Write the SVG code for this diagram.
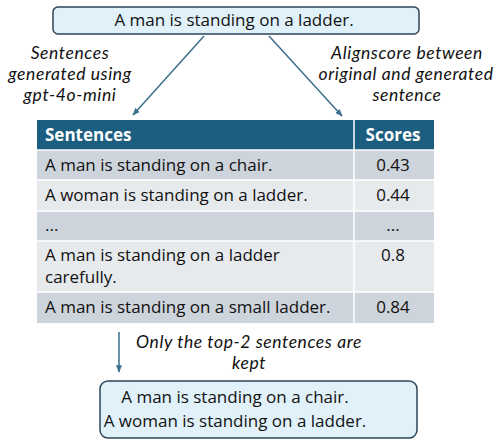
<svg xmlns="http://www.w3.org/2000/svg" width="496" height="440" viewBox="0 0 496 440">
  <style>
    text { font-family: "Open Sans", "Noto Sans", "Liberation Sans", sans-serif; fill: #111; }
    .box { fill: #E1F1F9; stroke: #2C4558; stroke-width: 1.5; }
    .body { font-size: 17px; }
    .note { font-family: Lato, "Open Sans", sans-serif; font-size: 17.5px; font-style: italic; letter-spacing: 0.6px; }
    .head { font-size: 17px; font-weight: bold; fill: #fff; }
    .hdr { fill: #1C5E80; }
    .dark { fill: #CED4DB; }
    .light { fill: #E7EAED; }
    .sep { stroke: #fff; stroke-width: 1.5; }
    .conn { stroke: #3A6F8E; stroke-width: 1.5; fill: none; marker-end: url(#arrow); }
  </style>
  <defs>
    <marker id="arrow" viewBox="0 0 10 10" refX="9" refY="5" markerWidth="5" markerHeight="5" orient="auto">
      <path d="M0,1 L10,5 L0,9 z" fill="#3A6F8E"/>
    </marker>
  </defs>

  <!-- source sentence -->
  <g id="source">
    <rect class="box" x="53" y="7" width="366" height="27" rx="5"/>
    <text class="body" x="234" y="26" text-anchor="middle">A man is standing on a ladder.</text>
  </g>

  <!-- connectors -->
  <g id="connectors">
    <line class="conn" x1="204" y1="36" x2="133" y2="115"/>
    <line class="conn" x1="269" y1="36" x2="342" y2="116"/>
    <line class="conn" x1="119" y1="332" x2="119" y2="372"/>
  </g>

  <!-- connector labels -->
  <g id="label-generate">
    <text class="note" text-anchor="middle"><tspan x="70" y="59">Sentences</tspan><tspan x="70" y="80">generated using</tspan><tspan x="70" y="101">gpt-4o-mini</tspan></text>
  </g>
  <g id="label-score">
    <text class="note" text-anchor="middle"><tspan x="407" y="59">Alignscore between</tspan><tspan x="406" y="80">original and generated</tspan><tspan x="407" y="101">sentence</tspan></text>
  </g>
  <g id="label-filter">
    <text class="note" text-anchor="middle"><tspan x="249" y="348">Only the top-2 sentences are</tspan><tspan x="249" y="369">kept</tspan></text>
  </g>

  <!-- scored candidates table -->
  <g id="table">
    <rect class="hdr" x="37" y="120" width="397" height="30"/>
    <rect class="dark" x="37" y="150" width="397" height="30"/>
    <rect class="light" x="37" y="180" width="397" height="31"/>
    <rect class="dark" x="37" y="211" width="397" height="30"/>
    <rect class="light" x="37" y="241" width="397" height="51"/>
    <rect class="dark" x="37" y="292" width="397" height="31"/>
    <line class="sep" x1="37" y1="150" x2="434" y2="150"/>
    <line class="sep" x1="37" y1="180" x2="434" y2="180"/>
    <line class="sep" x1="37" y1="211" x2="434" y2="211"/>
    <line class="sep" x1="37" y1="241" x2="434" y2="241"/>
    <line class="sep" x1="37" y1="292" x2="434" y2="292"/>
    <line class="sep" x1="354" y1="120" x2="354" y2="323"/>

    <text class="head" x="45" y="141">Sentences</text>
    <text class="head" x="393" y="141" text-anchor="middle">Scores</text>

    <text class="body" x="45" y="171">A man is standing on a chair.</text>
    <text class="body" x="393" y="171" text-anchor="middle">0.43</text>
    <text class="body" x="45" y="201">A woman is standing on a ladder.</text>
    <text class="body" x="393" y="201" text-anchor="middle">0.44</text>
    <text class="body" x="45" y="231">...</text>
    <text class="body" x="393" y="231" text-anchor="middle">...</text>
    <text class="body"><tspan x="45" y="261">A man is standing on a ladder</tspan><tspan x="45" y="283">carefully.</tspan></text>
    <text class="body" x="393" y="261" text-anchor="middle">0.8</text>
    <text class="body" x="45" y="313">A man is standing on a small ladder.</text>
    <text class="body" x="393" y="313" text-anchor="middle">0.84</text>
  </g>

  <!-- kept sentences -->
  <g id="kept">
    <rect class="box" x="100" y="381" width="317" height="57" rx="8"/>
    <text class="body" text-anchor="middle"><tspan x="235" y="403">A man is standing on a chair.</tspan><tspan x="235" y="427">A woman is standing on a ladder.</tspan></text>
  </g>
</svg>
